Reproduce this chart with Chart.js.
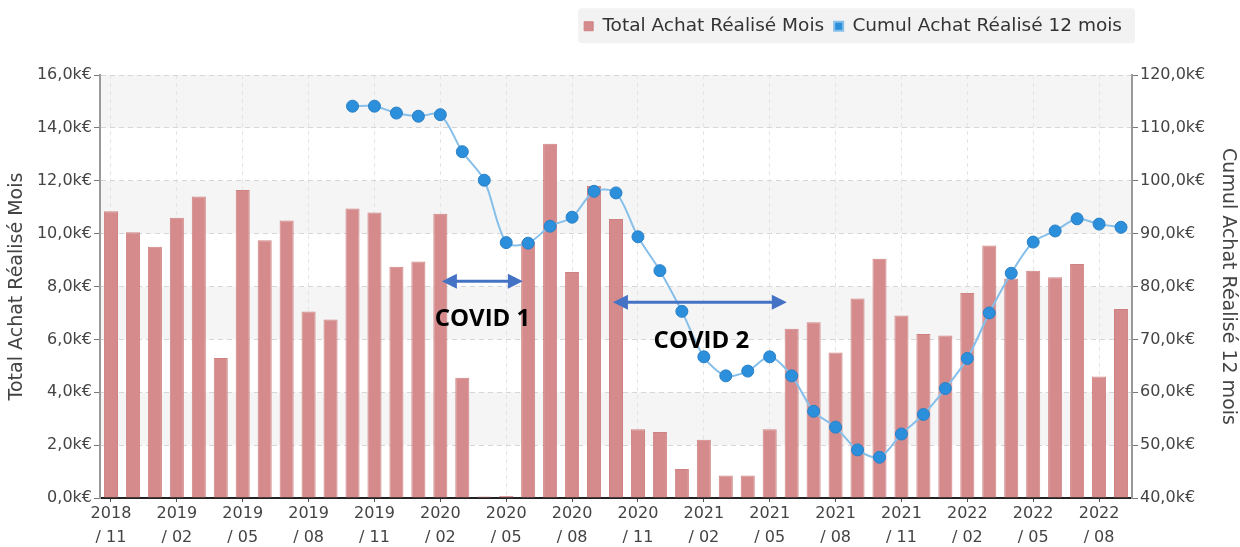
<!DOCTYPE html>
<html>
<head>
<meta charset="utf-8">
<script src="https://cdn.jsdelivr.net/npm/chart.js@4"></script>
<style>
  html, body { margin: 0; padding: 0; background: #fff; }
</style>
</head>
<body>
<canvas id="myChart" width="1240" height="547"></canvas>
<script>
// Mois (2018/11 -> 2022/09)
const months = [
  '2018/11', '2018/12', '2019/01', '2019/02', '2019/03', '2019/04', '2019/05', '2019/06',
  '2019/07', '2019/08', '2019/09', '2019/10', '2019/11', '2019/12', '2020/01', '2020/02',
  '2020/03', '2020/04', '2020/05', '2020/06', '2020/07', '2020/08', '2020/09', '2020/10',
  '2020/11', '2020/12', '2021/01', '2021/02', '2021/03', '2021/04', '2021/05', '2021/06',
  '2021/07', '2021/08', '2021/09', '2021/10', '2021/11', '2021/12', '2022/01', '2022/02',
  '2022/03', '2022/04', '2022/05', '2022/06', '2022/07', '2022/08', '2022/09'
];

// Total Achat Réalisé Mois (€)
const totalMois = [
  10850, 10050, 9500, 10600, 11400, 5300, 11650, 9750,
  10500, 7050, 6750, 10950, 10800, 8750, 8950, 10750,
  4550, 60, 80, 9700, 13400, 8550, 11800, 10550,
  2600, 2500, 1100, 2200, 850, 850, 2600, 6400,
  6650, 5500, 7550, 9050, 6900, 6200, 6150, 7750,
  9550, 8300, 8600, 8350, 8850, 4600, 7150
];

// Cumul Achat Réalisé 12 mois (€)
const cumul12 = [
  null, null, null, null, null, null, null, null,
  null, null, null, 114100, 114100, 112800, 112200, 112500,
  105500, 100100, 88300, 88200, 91400, 93100, 98000, 97700,
  89400, 83000, 75300, 66700, 63100, 64000, 66700, 63100,
  56400, 53400, 49100, 47700, 52100, 55800, 60700, 66400,
  75000, 82500, 88400, 90500, 92800, 91800, 91200
];

// Graduations des axes
const leftTicks = { min: 0, max: 16000, step: 2000 };
const rightTicks = { min: 40000, max: 120000, step: 10000 };

// Annotations COVID (en unités des axes : index de mois / valeur €)
const covidNotes = [
  { label: 'COVID 1', from: 15.07, to: 18.76, arrowY: 8200, textX: 16.92, textY: 6770 },
  { label: 'COVID 2', from: 22.86, to: 30.78, arrowY: 7400, textX: 26.89, textY: 5950 }
];

const FONT = "'DejaVu Sans', sans-serif";

function formatK(v) {
  return (v / 1000).toFixed(1).replace('.', ',') + 'k€';
}

// Bandes grises alternées + fond de la légende
const bandsPlugin = {
  id: 'bands',
  afterInit(chart) {
    const fit = chart.legend.fit;
    chart.legend.fit = function () {
      fit.call(this);
      this.height = 68;
    };
  },
  beforeDraw(chart) {
    const { ctx, chartArea, scales } = chart;
    const y = scales.y;
    ctx.save();
    ctx.fillStyle = '#f5f5f5';
    y.ticks.forEach((t) => {
      if (t.value > 0 && (t.value / 2000) % 2 === 0) {
        const top = y.getPixelForValue(t.value);
        const bottom = y.getPixelForValue(t.value - 2000);
        ctx.fillRect(chartArea.left, top, chartArea.right - chartArea.left, bottom - top);
      }
    });

    const boxes = chart.legend.legendHitBoxes;
    if (boxes && boxes.length) {
      const first = boxes[0];
      const last = boxes[boxes.length - 1];
      const x0 = first.left - 6;
      const x1 = last.left + last.width + 13;
      const cy = first.top + first.height / 2;
      ctx.fillStyle = '#f2f2f2';
      ctx.beginPath();
      ctx.roundRect(x0, cy - 18, x1 - x0, 35, 4);
      ctx.fill();
    }
    ctx.restore();
  }
};

// Flèches et textes COVID
const covidPlugin = {
  id: 'covid',
  afterDatasetsDraw(chart) {
    const { ctx, scales } = chart;
    const x = scales.x;
    const y = scales.y;
    ctx.save();
    covidNotes.forEach((n) => {
      const x0 = x.getPixelForValue(n.from);
      const x1 = x.getPixelForValue(n.to);
      const ay = y.getPixelForValue(n.arrowY);
      const head = 15;
      ctx.strokeStyle = '#4472c4';
      ctx.fillStyle = '#4472c4';
      ctx.lineWidth = 3;
      ctx.beginPath();
      ctx.moveTo(x0 + head - 2, ay);
      ctx.lineTo(x1 - head + 2, ay);
      ctx.stroke();
      ctx.beginPath();
      ctx.moveTo(x0, ay);
      ctx.lineTo(x0 + head, ay - 7.5);
      ctx.lineTo(x0 + head, ay + 7.5);
      ctx.closePath();
      ctx.fill();
      ctx.beginPath();
      ctx.moveTo(x1, ay);
      ctx.lineTo(x1 - head, ay - 7.5);
      ctx.lineTo(x1 - head, ay + 7.5);
      ctx.closePath();
      ctx.fill();

      ctx.fillStyle = '#000';
      ctx.font = "bold 24px 'Open Sans', sans-serif";
      ctx.textAlign = 'center';
      ctx.textBaseline = 'middle';
      ctx.fillText(n.label, x.getPixelForValue(n.textX), y.getPixelForValue(n.textY));
    });
    ctx.restore();
  }
};

const ctx = document.getElementById('myChart').getContext('2d');
new Chart(ctx, {
  type: 'bar',
  data: {
    labels: months,
    datasets: [
      {
        type: 'line',
        label: 'Cumul Achat Réalisé 12 mois',
        data: cumul12,
        yAxisID: 'y1',
        order: 0,
        borderColor: '#86bfea',
        borderWidth: 2,
        backgroundColor: '#2b8fdc',
        pointBackgroundColor: '#2b8fdc',
        pointBorderColor: '#2a80c6',
        pointBorderWidth: 1,
        pointRadius: 6,
        tension: 0.3,
        fill: false
      },
      {
        type: 'bar',
        label: 'Total Achat Réalisé Mois',
        data: totalMois,
        yAxisID: 'y',
        order: 1,
        backgroundColor: '#d58b8b',
        borderColor: '#cf8282',
        borderWidth: 1,
        categoryPercentage: 1,
        barPercentage: 0.64
      }
    ]
  },
  options: {
    responsive: false,
    animation: false,
    maintainAspectRatio: false,
    devicePixelRatio: 1,
    layout: { padding: { top: 7, left: 0, right: 0, bottom: 0 } },
    plugins: {
      tooltip: { enabled: false },
      legend: {
        position: 'top',
        align: 'end',
        fullSize: false,
        reverse: true,
        labels: {
          boxWidth: 9,
          boxHeight: 9,
          padding: 10,
          color: '#333',
          font: { family: FONT, size: 18.5 }
        }
      }
    },
    scales: {
      x: {
        offset: true,
        border: { color: '#222', width: 2, dash: [4, 4] },
        grid: {
          offset: false,
          color: '#e4e4e4',
          tickColor: '#555',
          tickLength: 4,
          tickBorderDash: []
        },
        ticks: {
          autoSkip: false,
          maxRotation: 0,
          minRotation: 0,
          padding: 0,
          color: '#444',
          font: { family: FONT, size: 16, lineHeight: 1.5 },
          callback: function (value, index) {
            if (index % 3 !== 0) return null;
            const parts = months[index].split('/');
            return [parts[0], '/ ' + parts[1]];
          }
        },
        afterFit: (scale) => { scale.height = 49; }
      },
      y: {
        position: 'left',
        min: leftTicks.min,
        max: leftTicks.max,
        border: { color: '#999', width: 2, dash: [5, 4] },
        grid: {
          color: '#d6d6d6',
          tickColor: '#777',
          tickLength: 6,
          tickBorderDash: []
        },
        ticks: {
          stepSize: leftTicks.step,
          padding: 2,
          color: '#444',
          font: { family: FONT, size: 16 },
          callback: (v) => formatK(v)
        },
        title: {
          display: true,
          text: 'Total Achat Réalisé Mois',
          color: '#444',
          font: { family: FONT, size: 19 },
          padding: { top: 6, bottom: 0 }
        },
        afterFit: (scale) => { scale.width = 100; }
      },
      y1: {
        position: 'right',
        min: rightTicks.min,
        max: rightTicks.max,
        border: { color: '#999', width: 2 },
        grid: {
          drawOnChartArea: false,
          tickColor: '#777',
          tickLength: 6
        },
        ticks: {
          stepSize: rightTicks.step,
          padding: 2,
          color: '#444',
          font: { family: FONT, size: 16 },
          callback: (v) => formatK(v)
        },
        title: {
          display: true,
          text: 'Cumul Achat Réalisé 12 mois',
          color: '#444',
          font: { family: FONT, size: 19 },
          padding: { top: 1, bottom: 0 }
        },
        afterFit: (scale) => { scale.width = 108; }
      }
    }
  },
  plugins: [bandsPlugin, covidPlugin]
});
</script>
</body>
</html>
